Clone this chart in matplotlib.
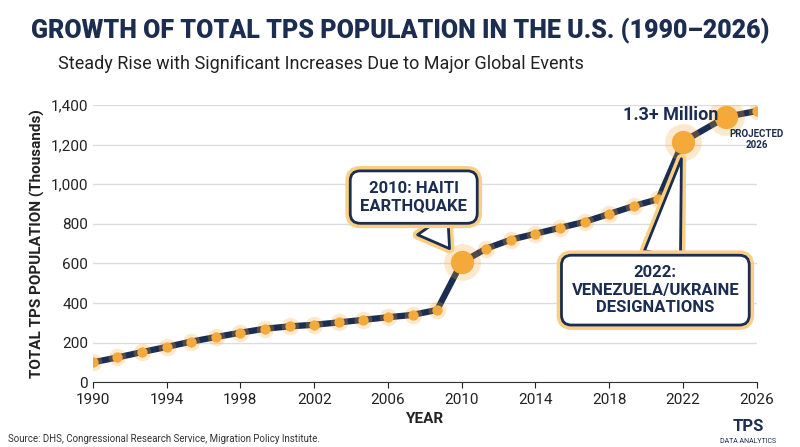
import matplotlib
matplotlib.use('Agg')
import matplotlib.pyplot as plt
import matplotlib.patheffects as pe

years = [1990 + i * 4 / 3 for i in range(24)] + [2022, 2024.33, 2026]
tps = [100, 125, 152, 178, 205, 228, 250, 270, 282, 290, 302, 315, 328, 340, 365,
       605, 675, 720, 750, 780, 810, 850, 890, 925, 1215, 1340, 1370]
big_idx = [15, 24, 25]
xticks = list(range(1990, 2027, 4))
yticks = list(range(0, 1401, 200))

navy = '#1b2d50'
orange = '#f4a93a'
plt.rcParams['font.family'] = ['Roboto', 'DejaVu Sans']

fig = plt.figure(figsize=(8, 4.47), dpi=100)
ax = fig.add_axes([0.116, 0.145, 0.83, 0.62])

ax.plot(years, tps, color=navy, lw=4.5, zorder=3, solid_capstyle='round')
ax.scatter(years, tps, s=160, color=orange, alpha=0.25, lw=0, zorder=4)
ax.scatter(years, tps, s=55, color=orange, lw=0, zorder=5)
bx = [years[i] for i in big_idx]
by = [tps[i] for i in big_idx]
ax.scatter(bx, by, s=700, color=orange, alpha=0.25, lw=0, zorder=4)
ax.scatter(bx, by, s=280, color=orange, lw=0, zorder=5)

ax.set_xlim(1990, 2026)
ax.set_ylim(0, 1400)
ax.set_xticks(xticks)
ax.set_yticks(yticks)
ax.set_yticklabels([f'{v:,}' for v in yticks])
ax.tick_params(labelsize=11, colors='#222222', length=4)
ax.tick_params(axis='y', length=0)
ax.grid(axis='y', color='#dddddd', lw=1)
for s in ['top', 'right', 'left']:
    ax.spines[s].set_visible(False)
ax.spines['bottom'].set_color('#333333')
ax.set_xlabel('YEAR', fontsize=11, fontweight='bold', color='#222222')
ax.set_ylabel('TOTAL TPS POPULATION (Thousands)', fontsize=11, fontweight='bold', color='#222222')

glow = [pe.withStroke(linewidth=7, foreground='#f8cf85')]
box = dict(boxstyle='round,pad=0.6', fc='white', ec=navy, lw=2, path_effects=glow)
arrow = dict(arrowstyle='wedge,tail_width=2.2,shrink_factor=0.5', fc='white', ec=navy,
             lw=2, shrinkA=0, shrinkB=6, path_effects=glow)
ax.annotate('2010: HAITI\nEARTHQUAKE', xy=(2009.6, 640), xytext=(2007.4, 935),
            ha='center', va='center', fontsize=12, fontweight='bold', color=navy,
            bbox=box, zorder=6, arrowprops=arrow)
ax.annotate('2022:\nVENEZUELA/UKRAINE\nDESIGNATIONS', xy=(2022, 1170), xytext=(2020.5, 465),
            ha='center', va='center', fontsize=12, fontweight='bold', color=navy,
            bbox=box, zorder=6, arrowprops=arrow)
ax.text(2023.9, 1350, '1.3+ Million', ha='right', va='center', fontsize=13,
        fontweight='bold', color=navy, zorder=6)
ax.text(2026, 1225, 'PROJECTED\n2026', ha='center', va='center', fontsize=7,
        fontweight='bold', color=navy, zorder=6)

fig.text(0.5, 0.915, 'GROWTH OF TOTAL TPS POPULATION IN THE U.S. (1990–2026)', ha='center',
         fontsize=18, fontweight='black', color=navy)
fig.text(0.072, 0.845, 'Steady Rise with Significant Increases Due to Major Global Events',
         fontsize=13, color='#222222')
fig.text(0.01, 0.012, 'Source: DHS, Congressional Research Service, Migration Policy Institute.',
         fontsize=7, color='#333333')
fig.text(0.935, 0.035, 'TPS', ha='center', fontsize=12, fontweight='bold', color=navy)
fig.text(0.935, 0.008, 'DATA ANALYTICS', ha='center', fontsize=5, color=navy)

fig.savefig('out.png', dpi=100, facecolor='white')
